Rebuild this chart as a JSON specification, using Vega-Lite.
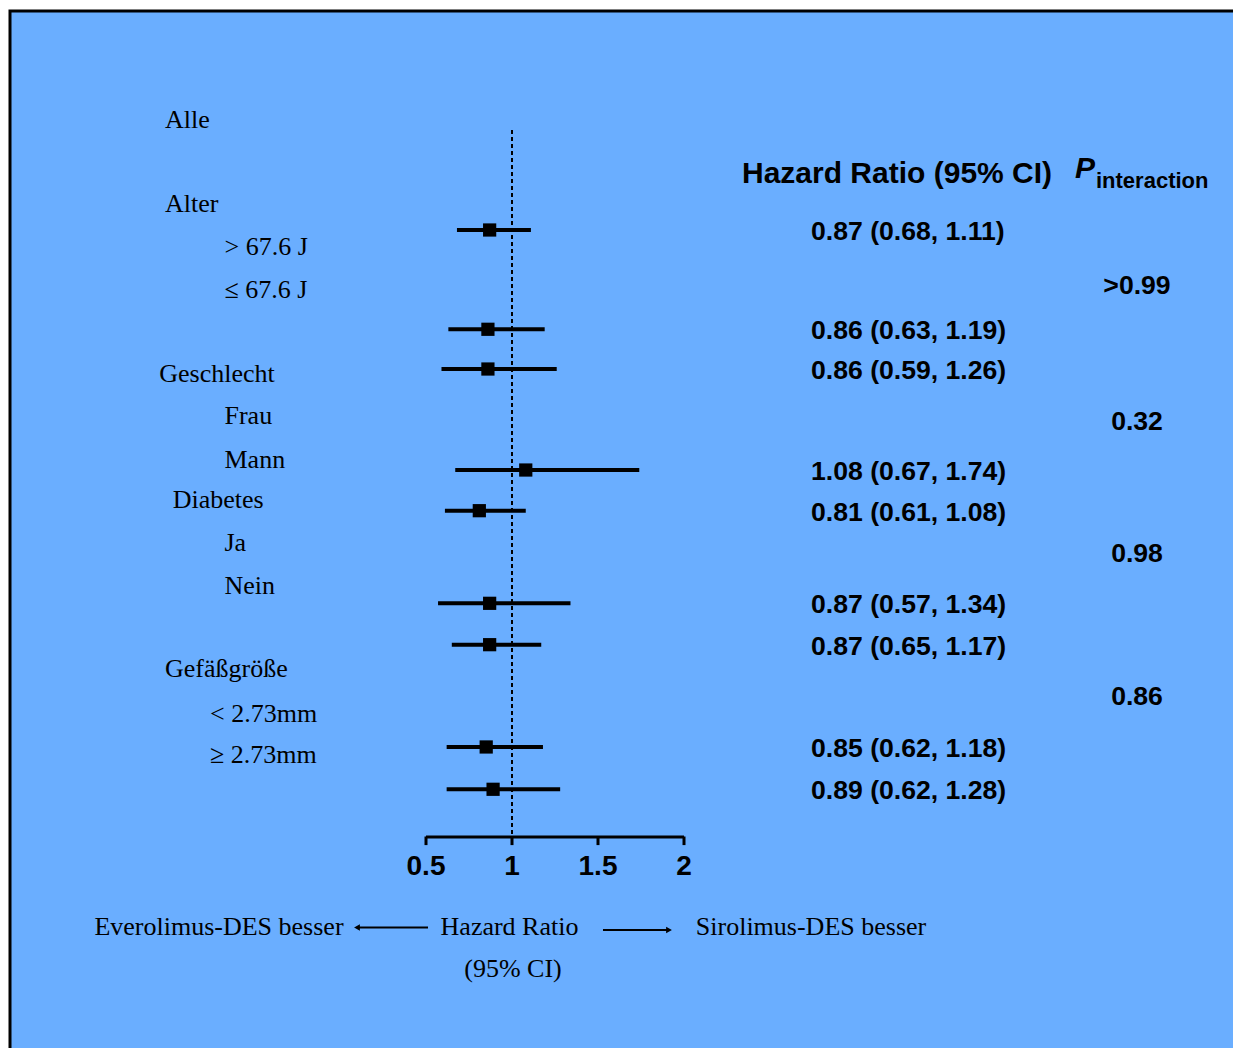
{
  "$schema": "https://vega.github.io/schema/vega-lite/v6.json",
  "width": 1228,
  "height": 1042,
  "autosize": {"type": "none"},
  "padding": {"left": 10, "top": 11, "right": -5, "bottom": -5},
  "background": "white",
  "config": {
    "view": {"fill": "#6aaeff", "stroke": "#000000", "strokeWidth": 3},
    "text": {"color": "#000000"}
  },
  "datasets": {
    "forest": [
      {"hr": 0.87, "lo": 0.68, "hi": 1.11, "ci": "0.87 (0.68, 1.11)", "line": 2.365},
      {"hr": 0.86, "lo": 0.63, "hi": 1.19, "ci": "0.86 (0.63, 1.19)", "line": 4.674},
      {"hr": 0.86, "lo": 0.59, "hi": 1.26, "ci": "0.86 (0.59, 1.26)", "line": 5.598},
      {"hr": 1.08, "lo": 0.67, "hi": 1.74, "ci": "1.08 (0.67, 1.74)", "line": 7.947},
      {"hr": 0.81, "lo": 0.61, "hi": 1.08, "ci": "0.81 (0.61, 1.08)", "line": 8.893},
      {"hr": 0.87, "lo": 0.57, "hi": 1.34, "ci": "0.87 (0.57, 1.34)", "line": 11.047},
      {"hr": 0.87, "lo": 0.65, "hi": 1.17, "ci": "0.87 (0.65, 1.17)", "line": 12.009},
      {"hr": 0.85, "lo": 0.62, "hi": 1.18, "ci": "0.85 (0.62, 1.18)", "line": 14.388},
      {"hr": 0.89, "lo": 0.62, "hi": 1.28, "ci": "0.89 (0.62, 1.28)", "line": 15.372}
    ],
    "labels": [
      {"label": "Alle", "line": 0, "col": "a"},
      {"label": "Alter", "line": 1.94, "col": "a"},
      {"label": "> 67.6 J", "line": 2.947, "col": "s"},
      {"label": "≤ 67.6 J", "line": 3.953, "col": "s"},
      {"label": "Geschlecht", "line": 5.893, "col": "g"},
      {"label": "Frau", "line": 6.877, "col": "s"},
      {"label": "Mann", "line": 7.893, "col": "s"},
      {"label": "Diabetes", "line": 8.823, "col": "d"},
      {"label": "Ja", "line": 9.83, "col": "s"},
      {"label": "Nein", "line": 10.828, "col": "s"},
      {"label": "Gefäßgröße", "line": 12.753, "col": "a"},
      {"label": "< 2.73mm", "line": 13.8, "col": "m"},
      {"label": "≥ 2.73mm", "line": 14.77, "col": "m"}
    ],
    "pvals": [
      {"p": ">0.99", "line": 3.679},
      {"p": "0.32", "line": 6.835},
      {"p": "0.98", "line": 9.9},
      {"p": "0.86", "line": 13.219}
    ],
    "ticks": [
      {"v": 0.5, "lab": "0.5"},
      {"v": 1, "lab": "1"},
      {"v": 1.5, "lab": "1.5"},
      {"v": 2, "lab": "2"}
    ]
  },
  "layer": [
    {
      "data": {"values": [{"a": 0.5, "b": 2, "line": 16.481}]},
      "mark": {"type": "rule", "strokeWidth": 3, "color": "#000000"},
      "encoding": {
        "x": {
          "field": "a", "type": "quantitative",
          "scale": {"domain": [-1.9186, 5.2209], "nice": false, "zero": false},
          "axis": null
        },
        "x2": {"field": "b"},
        "y": {
          "field": "line", "type": "quantitative",
          "scale": {"domain": [-2.728, 21.505], "reverse": true, "nice": false, "zero": false},
          "axis": null
        }
      }
    },
    {
      "data": {"name": "ticks"},
      "mark": {"type": "rule", "strokeWidth": 3, "color": "#000000"},
      "encoding": {
        "x": {"field": "v", "type": "quantitative", "axis": null},
        "y": {"datum": 16.47, "type": "quantitative", "axis": null},
        "y2": {"datum": 16.67}
      }
    },
    {
      "data": {"name": "ticks"},
      "mark": {"type": "text", "align": "center", "baseline": "alphabetic", "font": "Liberation Sans", "fontWeight": "bold", "fontSize": 28},
      "encoding": {
        "x": {"field": "v", "type": "quantitative", "axis": null},
        "y": {"datum": 17.365, "type": "quantitative", "axis": null},
        "text": {"field": "lab"}
      }
    },
    {
      "data": {"values": [{"hr": 1, "top": 0.04, "bottom": 16.481}]},
      "mark": {"type": "rule", "strokeWidth": 2, "strokeDash": [4, 3], "color": "#000000"},
      "encoding": {
        "x": {"field": "hr", "type": "quantitative", "axis": null},
        "y": {"field": "top", "type": "quantitative", "axis": null},
        "y2": {"field": "bottom"}
      }
    },
    {
      "data": {"name": "forest"},
      "mark": {"type": "rule", "strokeWidth": 4, "color": "#000000"},
      "encoding": {
        "x": {"field": "lo", "type": "quantitative", "axis": null},
        "x2": {"field": "hi"},
        "y": {"field": "line", "type": "quantitative", "axis": null}
      }
    },
    {
      "data": {"name": "forest"},
      "mark": {"type": "point", "shape": "square", "filled": true, "size": 175, "color": "#000000", "opacity": 1},
      "encoding": {
        "x": {"field": "hr", "type": "quantitative", "axis": null},
        "y": {"field": "line", "type": "quantitative", "axis": null}
      }
    },
    {
      "data": {"name": "forest"},
      "mark": {"type": "text", "align": "left", "baseline": "middle", "dy": 2, "font": "Liberation Sans", "fontWeight": "bold", "fontSize": 26.6},
      "encoding": {
        "x": {"datum": 2.7384, "type": "quantitative", "axis": null},
        "y": {"field": "line", "type": "quantitative", "axis": null},
        "text": {"field": "ci"}
      }
    },
    {
      "data": {"name": "pvals"},
      "mark": {"type": "text", "align": "center", "baseline": "middle", "font": "Liberation Sans", "fontWeight": "bold", "fontSize": 26.6},
      "encoding": {
        "x": {"datum": 4.6337, "type": "quantitative", "axis": null},
        "y": {"field": "line", "type": "quantitative", "axis": null},
        "text": {"field": "p"}
      }
    },
    {
      "data": {"name": "labels"},
      "transform": [{"filter": "datum.col === 'a'"}],
      "mark": {"type": "text", "align": "left", "baseline": "alphabetic", "font": "Liberation Serif", "fontSize": 26},
      "encoding": {
        "x": {"datum": -1.0174, "type": "quantitative", "axis": null},
        "y": {"field": "line", "type": "quantitative", "axis": null},
        "text": {"field": "label"}
      }
    },
    {
      "data": {"name": "labels"},
      "transform": [{"filter": "datum.col === 'g'"}],
      "mark": {"type": "text", "align": "left", "baseline": "alphabetic", "font": "Liberation Serif", "fontSize": 26},
      "encoding": {
        "x": {"datum": -1.0506, "type": "quantitative", "axis": null},
        "y": {"field": "line", "type": "quantitative", "axis": null},
        "text": {"field": "label"}
      }
    },
    {
      "data": {"name": "labels"},
      "transform": [{"filter": "datum.col === 'd'"}],
      "mark": {"type": "text", "align": "left", "baseline": "alphabetic", "font": "Liberation Serif", "fontSize": 26},
      "encoding": {
        "x": {"datum": -0.9727, "type": "quantitative", "axis": null},
        "y": {"field": "line", "type": "quantitative", "axis": null},
        "text": {"field": "label"}
      }
    },
    {
      "data": {"name": "labels"},
      "transform": [{"filter": "datum.col === 's'"}],
      "mark": {"type": "text", "align": "left", "baseline": "alphabetic", "font": "Liberation Serif", "fontSize": 26},
      "encoding": {
        "x": {"datum": -0.6715, "type": "quantitative", "axis": null},
        "y": {"field": "line", "type": "quantitative", "axis": null},
        "text": {"field": "label"}
      }
    },
    {
      "data": {"name": "labels"},
      "transform": [{"filter": "datum.col === 'm'"}],
      "mark": {"type": "text", "align": "left", "baseline": "alphabetic", "font": "Liberation Serif", "fontSize": 26},
      "encoding": {
        "x": {"datum": -0.7558, "type": "quantitative", "axis": null},
        "y": {"field": "line", "type": "quantitative", "axis": null},
        "text": {"field": "label"}
      }
    },
    {
      "data": {"values": [{"t": "Hazard Ratio (95% CI)", "line": 1.272}]},
      "mark": {"type": "text", "align": "left", "baseline": "alphabetic", "font": "Liberation Sans", "fontWeight": "bold", "fontSize": 30},
      "encoding": {
        "x": {"datum": 2.3372, "type": "quantitative", "axis": null},
        "y": {"field": "line", "type": "quantitative", "axis": null},
        "text": {"field": "t"}
      }
    },
    {
      "data": {"values": [{"t": "P", "line": 1.155}]},
      "mark": {"type": "text", "align": "left", "baseline": "alphabetic", "font": "Liberation Sans", "fontWeight": "bold", "fontStyle": "italic", "fontSize": 30},
      "encoding": {
        "x": {"datum": 4.2733, "type": "quantitative", "axis": null},
        "y": {"field": "line", "type": "quantitative", "axis": null},
        "text": {"field": "t"}
      }
    },
    {
      "data": {"values": [{"t": "interaction", "line": 1.388}]},
      "mark": {"type": "text", "align": "left", "baseline": "alphabetic", "font": "Liberation Sans", "fontWeight": "bold", "fontSize": 22},
      "encoding": {
        "x": {"datum": 4.3953, "type": "quantitative", "axis": null},
        "y": {"field": "line", "type": "quantitative", "axis": null},
        "text": {"field": "t"}
      }
    },
    {
      "data": {"values": [{"t": "Everolimus-DES besser", "line": 18.761}]},
      "mark": {"type": "text", "align": "center", "baseline": "alphabetic", "font": "Liberation Serif", "fontSize": 26},
      "encoding": {
        "x": {"datum": -0.7035, "type": "quantitative", "axis": null},
        "y": {"field": "line", "type": "quantitative", "axis": null},
        "text": {"field": "t"}
      }
    },
    {
      "data": {"values": [{"t": "Hazard Ratio", "line": 18.761}]},
      "mark": {"type": "text", "align": "center", "baseline": "alphabetic", "font": "Liberation Serif", "fontSize": 26},
      "encoding": {
        "x": {"datum": 0.9855, "type": "quantitative", "axis": null},
        "y": {"field": "line", "type": "quantitative", "axis": null},
        "text": {"field": "t"}
      }
    },
    {
      "data": {"values": [{"t": "(95% CI)", "line": 19.737}]},
      "mark": {"type": "text", "align": "center", "baseline": "alphabetic", "font": "Liberation Serif", "fontSize": 26},
      "encoding": {
        "x": {"datum": 1.0058, "type": "quantitative", "axis": null},
        "y": {"field": "line", "type": "quantitative", "axis": null},
        "text": {"field": "t"}
      }
    },
    {
      "data": {"values": [{"t": "Sirolimus-DES besser", "line": 18.761}]},
      "mark": {"type": "text", "align": "center", "baseline": "alphabetic", "font": "Liberation Serif", "fontSize": 26},
      "encoding": {
        "x": {"datum": 2.7384, "type": "quantitative", "axis": null},
        "y": {"field": "line", "type": "quantitative", "axis": null},
        "text": {"field": "t"}
      }
    },
    {
      "data": {"values": [{"from": 0.0988, "to": 0.5116, "line": 18.586}, {"from": 1.529, "to": 1.9128, "line": 18.644}]},
      "mark": {"type": "rule", "strokeWidth": 2, "color": "#000000"},
      "encoding": {
        "x": {"field": "from", "type": "quantitative", "axis": null},
        "x2": {"field": "to"},
        "y": {"field": "line", "type": "quantitative", "axis": null}
      }
    },
    {
      "data": {"values": [{"at": 0.0988, "line": 18.586}]},
      "mark": {"type": "point", "shape": "triangle-left", "filled": true, "size": 45, "color": "#000000", "opacity": 1},
      "encoding": {
        "x": {"field": "at", "type": "quantitative", "axis": null},
        "y": {"field": "line", "type": "quantitative", "axis": null}
      }
    },
    {
      "data": {"values": [{"at": 1.9128, "line": 18.644}]},
      "mark": {"type": "point", "shape": "triangle-right", "filled": true, "size": 45, "color": "#000000", "opacity": 1},
      "encoding": {
        "x": {"field": "at", "type": "quantitative", "axis": null},
        "y": {"field": "line", "type": "quantitative", "axis": null}
      }
    }
  ]
}
